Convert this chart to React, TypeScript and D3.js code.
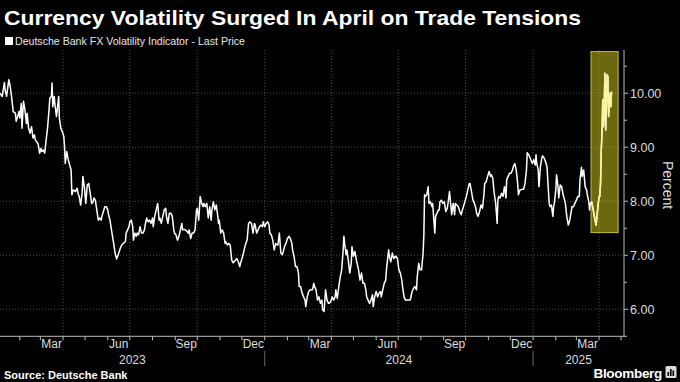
import React from "react";
import * as d3 from "d3";

const W = 680;
const H = 382;

const titleText = "Currency Volatility Surged In April on Trade Tensions";
const legendText = "Deutsche Bank FX Volatility Indicator - Last Price";
const sourceText = "Source: Deutsche Bank";
const brandText = "Bloomberg";
const yAxisTitle = "Percent";

const yTicks = [6, 7, 8, 9, 10];
const yMinorTicks = [5.5, 6.5, 7.5, 8.5, 9.5, 10.5];
const labelledMonths = [2, 5, 8, 11]; // Mar, Jun, Sep, Dec

const seriesBase = new Date(2023, 0, 1);
const domainStart = new Date(2023, 0, 5);
const domainEnd = new Date(2025, 4, 5);
const yDomain = [5.5, 10.8];

const highlightStart = new Date(2025, 2, 21);
const highlightEnd = new Date(2025, 3, 27);
const highlightLow = 7.42;
const highlightHigh = 10.77;

// [days since 2023-01-01, last price %]
const fxVolSeries: [number, number][] = [
[4,10.00],[7,9.94],[10,10.20],[11,10.06],[13,9.94],[16,10.25],[18,10.12],[20,9.91],[22,9.66],[25,9.63],[26,9.48],[28,9.57],[30,9.66],[31,9.54],[33,9.81],[34,9.35],[36,9.85],[38,9.69],[40,9.44],[41,9.63],[43,9.35],[45,9.26],[47,9.38],[49,9.17],[51,9.23],[52,9.14],[54,9.10],[56,9.06],[58,8.89],[60,8.98],[61,8.92],[63,8.95],[65,8.89],[67,9.14],[69,9.38],[71,9.72],[72,9.91],[74,9.94],[75,10.19],[76,9.75],[78,9.94],[79,9.78],[81,9.57],[82,9.69],[84,9.94],[85,9.54],[87,9.35],[89,9.29],[91,9.20],[92,9.01],[93,8.70],[95,8.92],[97,8.77],[99,8.67],[101,8.58],[102,8.12],[104,8.21],[107,8.18],[109,8.24],[111,8.12],[112,8.09],[114,7.93],[116,8.15],[117,8.46],[119,8.27],[121,7.96],[123,8.30],[125,8.33],[127,8.15],[129,7.96],[131,7.99],[132,8.06],[134,8.02],[136,7.84],[138,7.65],[140,7.69],[142,7.65],[143,7.72],[145,7.81],[147,7.90],[149,7.90],[151,7.84],[152,7.75],
[154,7.65],[156,7.47],[159,7.22],[161,7.04],[163,6.93],[166,7.04],[168,7.13],[170,7.19],[172,7.22],[175,7.25],[176,7.41],[178,7.47],[180,7.53],[181,7.62],[183,7.65],[185,7.53],[186,7.28],[188,7.41],[190,7.35],[191,7.41],[193,7.38],[195,7.53],[197,7.41],[199,7.41],[201,7.47],[202,7.56],[204,7.69],[206,7.62],[208,7.65],[210,7.59],[212,7.69],[213,7.53],[215,7.72],[217,7.84],[219,7.96],[221,7.65],[222,7.69],[224,7.59],[226,7.72],[228,7.84],[230,7.87],[231,7.72],[233,7.59],[235,7.78],[237,7.78],[239,7.72],[241,7.47],[242,7.41],[244,7.38],[246,7.28],[248,7.35],[250,7.47],[252,7.59],[253,7.47],[255,7.48],[257,7.47],[259,7.44],[261,7.41],[262,7.47],[264,7.31],[266,7.41],[268,7.41],[270,7.47],[272,7.84],[273,7.87],[275,7.65],[277,8.09],[279,7.96],[281,7.90],[282,7.96],[284,7.90],[286,7.96],[288,7.69],[290,7.90],
[292,7.65],[293,7.84],[295,7.99],[297,7.84],[299,7.93],[301,7.72],[302,7.59],[303,7.65],[305,7.41],[307,7.47],[309,7.41],[311,7.22],[312,7.25],[314,7.19],[316,7.22],[318,7.19],[320,6.91],[322,6.86],[323,6.88],[325,6.91],[327,6.94],[329,6.88],[331,6.79],[332,6.85],[334,6.94],[336,7.04],[338,7.16],[340,7.25],[341,7.28],[343,7.59],[345,7.62],[347,7.59],[349,7.41],[351,7.59],[352,7.56],[354,7.41],[356,7.47],[358,7.53],[360,7.56],[362,7.53],[363,7.62],[365,7.53],[367,7.59],[369,7.62],[371,7.56],[372,7.41],[374,7.38],[376,7.28],[378,7.10],[380,7.22],[382,7.19],[383,7.19],[385,7.41],[387,7.04],[389,7.01],[391,7.10],[392,7.16],[394,7.22],[396,7.31],[398,7.35],[400,7.31],[402,7.22],[403,7.10],[405,6.98],[407,6.79],[409,6.79],[411,6.67],[412,6.42],[414,6.42],[416,6.30],[418,6.23],[420,6.17],[421,6.05],[423,6.23],[425,6.33],[427,6.36],
[430,6.36],[432,6.48],[433,6.42],[435,6.36],[437,6.17],[439,6.23],[441,6.11],[443,6.17],[444,5.99],[446,5.96],[448,6.36],[450,6.17],[452,6.11],[453,6.11],[455,6.14],[457,6.23],[459,6.17],[461,6.23],[462,6.36],[464,6.20],[466,6.42],[468,6.60],[470,6.73],[472,7.10],[473,7.35],[474,7.22],[476,7.01],[477,7.10],[479,6.91],[481,6.67],[483,6.85],[484,7.16],[486,6.98],[488,7.07],[490,6.91],[492,6.79],[493,6.73],[495,6.54],[497,6.67],[499,6.48],[501,6.48],[503,6.36],[504,6.23],[506,6.17],[508,6.11],[510,6.17],[512,6.27],[513,6.05],[515,6.23],[517,6.33],[519,6.23],[521,6.30],[523,6.33],[524,6.23],[526,6.36],[528,6.48],[530,6.54],[531,6.73],[533,6.98],[534,7.10],[535,6.98],[537,6.88],[539,7.04],[541,6.94],[543,6.98],[544,6.98],[546,6.94],[548,6.73],[550,6.67],[552,6.54],[553,6.42],[555,6.23],[557,6.17],[559,6.17],[561,6.17],[563,6.17],
[564,6.20],[566,6.33],[568,6.39],[570,6.42],[572,6.36],[573,6.60],[575,6.85],[577,6.73],[579,6.73],[581,7.04],[582,7.35],[583,8.12],[584,8.09],[586,8.12],[588,8.27],[589,7.96],[591,7.99],[593,7.90],[594,7.96],[595,7.78],[597,7.41],[598,7.72],[600,7.78],[602,7.84],[603,7.84],[604,7.99],[606,8.02],[608,7.96],[610,7.99],[612,7.81],[614,7.87],[615,7.96],[617,8.18],[619,7.90],[620,7.75],[622,7.96],[624,7.75],[625,7.96],[627,7.93],[629,7.90],[631,7.81],[633,7.75],[634,7.81],[636,7.90],[638,7.99],[640,8.09],[642,8.21],[644,8.33],[645,8.33],[647,8.18],[649,8.02],[651,7.96],[653,7.87],[654,7.78],[656,7.72],[658,7.81],[660,7.93],[662,7.87],[664,8.12],[665,8.33],[667,8.36],[669,8.46],[671,8.55],[673,8.46],[674,8.49],[676,8.43],[678,8.15],[680,7.96],[682,7.59],[683,8.02],[684,8.09],[686,8.06],[688,8.15],[690,8.09],[692,8.27],[694,8.06],[695,8.40],[697,8.46],[699,8.52],
[701,8.52],[703,8.58],[704,8.64],[706,8.70],[708,8.58],[710,8.33],[711,8.12],[713,8.21],[714,8.21],[716,8.22],[718,8.22],[720,8.33],[722,8.58],[723,8.90],[725,8.86],[727,8.80],[729,8.73],[730,8.70],[732,8.77],[734,8.67],[735,8.86],[736,8.70],[738,8.58],[739,8.27],[741,8.64],[743,8.81],[744,8.84],[746,8.80],[748,8.73],[750,8.64],[751,8.40],[753,7.96],[754,7.90],[756,7.93],[758,7.72],[759,7.90],[760,7.96],[762,8.21],[763,8.49],[765,8.27],[766,8.06],[768,8.30],[770,8.27],[772,8.12],[774,8.02],[775,7.96],[777,7.72],[779,7.56],[781,7.65],[783,7.81],[784,7.90],[786,7.90],[788,7.96],[790,8.02],[792,8.09],[794,8.09],[795,8.40],[797,8.63],[798,8.46],[800,8.58],[802,8.27],[804,8.21],[805,8.12],[807,7.99],[808,7.84],
[809,7.96],[811,7.99],[813,7.84],[816,7.62],[817,7.56],[819,7.84],[821,8.09],[822,8.09],[823,8.33],[824,8.95],[825,9.26],[826,9.88],[827,9.38],[828,9.75],[829,10.37],[830,9.32],[831,9.75],[832,10.34],[833,10.31],[834,9.57],[835,9.88],[836,10.00],[837,9.75],[838,10.03]
];

const FONT = "'Liberation Sans', Arial, sans-serif";

export default function App() {
  const plotLeft = 0;
  const plotRight = 624;
  const plotTop = 50;
  const plotBottom = 336.3;

  const x = d3.scaleTime().domain([domainStart, domainEnd]).range([plotLeft, plotRight]);
  const y = d3.scaleLinear().domain(yDomain).range([plotBottom, plotTop]);

  const points = fxVolSeries.map(([d, v]) => ({ date: d3.timeDay.offset(seriesBase, d), v }));
  const line = d3
    .line<{ date: Date; v: number }>()
    .x((p) => x(p.date))
    .y((p) => y(p.v));
  const path = line(points) || "";

  const gridDates = d3.timeMonth.every(3)!.range(domainStart, domainEnd);
  const monthTicks = d3.timeMonth.range(domainStart, domainEnd);
  const monthLabelDates = d3
    .timeMonth.range(d3.timeMonth.floor(domainStart), domainEnd)
    .filter((m) => labelledMonths.includes(m.getMonth()));
  const years = d3.timeYear.range(d3.timeYear.floor(domainStart), domainEnd);
  const yearSeps = d3.timeYear.range(domainStart, domainEnd);
  const fmtMonth = d3.timeFormat("%b");
  const fmtYear = d3.timeFormat("%Y");

  const hx0 = x(highlightStart);
  const hx1 = x(highlightEnd);
  const hy0 = y(highlightHigh);
  const hy1 = y(highlightLow);

  return (
    <svg
      width={W}
      height={H}
      style={{ position: "absolute", left: 0, top: 0, background: "#000" }}
      fontFamily={FONT}
    >
      <rect x={0} y={0} width={W} height={H} fill="#000" />
      <text x={4} y={25} fill="#fff" fontSize={21} fontWeight="bold" textLength={577} lengthAdjust="spacingAndGlyphs">
        {titleText}
      </text>
      <rect x={5} y={37} width={8} height={8} fill="#fff" />
      <text x={15} y={45} fill="#e6e6e6" fontSize={11} textLength={230} lengthAdjust="spacingAndGlyphs">
        {legendText}
      </text>

      {/* grid */}
      {yTicks.map((t) => (
        <line key={"gy" + t} x1={plotLeft} x2={plotRight} y1={y(t)} y2={y(t)} stroke="#4a4a4a" strokeDasharray="1,2" />
      ))}
      {gridDates.map((d, i) => (
        <line key={"gx" + i} x1={x(d)} x2={x(d)} y1={plotTop} y2={plotBottom} stroke="#4a4a4a" strokeDasharray="1,2" />
      ))}

      {/* highlight box */}
      <rect x={hx0} y={hy0} width={hx1 - hx0} height={hy1 - hy0} fill="rgba(215,208,30,0.5)" stroke="#c4bc32" strokeWidth={1} />

      <defs>
        <clipPath id="hlClip">
          <rect x={hx0} y={hy0} width={hx1 - hx0} height={hy1 - hy0} />
        </clipPath>
      </defs>
      <path d={path} fill="none" stroke="#fff" strokeWidth={1.5} strokeLinejoin="round" />
      <path d={path} fill="none" stroke="#fbf4a2" strokeWidth={1.5} strokeLinejoin="round" clipPath="url(#hlClip)" />

      {/* axes */}
      <line x1={plotLeft} x2={plotRight + 0.5} y1={plotBottom} y2={plotBottom} stroke="#bbb" />
      <line x1={plotRight} x2={plotRight} y1={plotTop} y2={plotBottom} stroke="#bbb" />
      {monthTicks.map((d, i) => (
        <line key={"mt" + i} x1={x(d)} x2={x(d)} y1={plotBottom} y2={plotBottom + 4} stroke="#bbb" />
      ))}
      {yTicks.map((t) => (
        <g key={"yt" + t}>
          <line x1={plotRight} x2={plotRight + 4} y1={y(t)} y2={y(t)} stroke="#bbb" />
          <text x={630} y={y(t) + 4.5} fill="#ddd" fontSize={12.5}>
            {t.toFixed(2)}
          </text>
        </g>
      ))}
      {yMinorTicks.map((t) => (
        <line key={"ym" + t} x1={plotRight} x2={plotRight + 3} y1={y(t)} y2={y(t)} stroke="#bbb" />
      ))}
      <text
        transform={`translate(663, ${y(8.3)}) rotate(90)`}
        fill="#ddd"
        fontSize={14}
        textAnchor="middle"
      >
        {yAxisTitle}
      </text>

      {monthLabelDates.map((m, i) => {
        const mid = new Date((m.getTime() + d3.timeMonth.offset(m, 1).getTime()) / 2);
        return (
          <text key={"ml" + i} x={x(mid)} y={348} fill="#ddd" fontSize={12} textAnchor="middle">
            {fmtMonth(m)}
          </text>
        );
      })}
      {years.map((yr, i) => {
        const a = Math.max(x(yr), plotLeft);
        const b = Math.min(x(d3.timeYear.offset(yr, 1)), plotRight);
        return (
          <text key={"yl" + i} x={(a + b) / 2} y={364} fill="#ddd" fontSize={12} textAnchor="middle">
            {fmtYear(yr)}
          </text>
        );
      })}
      {yearSeps.map((d, i) => (
        <line key={"ys" + i} x1={x(d)} x2={x(d)} y1={351} y2={366} stroke="#666" />
      ))}

      <text x={4} y={379} fill="#fff" fontSize={11} fontWeight="bold">
        {sourceText}
      </text>
      <text x={662} y={378} fill="#fff" fontSize={13.5} fontWeight="bold" textAnchor="end" letterSpacing={-0.3}>
        {brandText}
      </text>
      <g>
        <rect x={665.5} y={366} width={11} height={12} rx={1.5} fill="#ddd" />
        <rect x={667.5} y={372} width={1.6} height={4} fill="#000" />
        <rect x={670} y={369} width={1.6} height={7} fill="#000" />
        <rect x={672.5} y={370.5} width={1.6} height={5.5} fill="#000" />
      </g>
    </svg>
  );
}
